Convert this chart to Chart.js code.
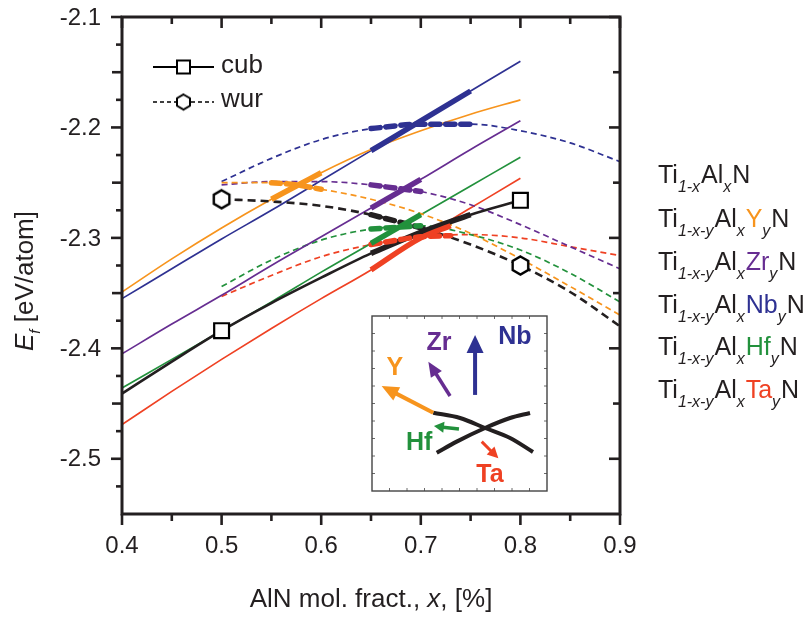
<!DOCTYPE html>
<html>
<head>
<meta charset="utf-8">
<script src="https://cdn.jsdelivr.net/npm/chart.js@4.4.1/dist/chart.umd.min.js"></script>
<style>
  body { margin: 0; background: #fff; }
  #wrap { position: relative; width: 807px; height: 617px; }
  #main { position: absolute; left: 0; top: 0; }
  #inset { position: absolute; left: 371px; top: 315px; }
</style>
</head>
<body>
<div id="wrap">
  <canvas id="main" width="807" height="617"></canvas>
  <canvas id="inset" width="178" height="178"></canvas>
</div>
<script>
// fonts + colours
const FONT = "'Liberation Sans', Arial, sans-serif";
const INK = "#231f20";
const COL = { TiAlN: INK, Y: "#f7941d", Zr: "#662d91", Nb: "#2e3192", Hf: "#22913c", Ta: "#ef4123" };

// x grids for the two phases
const xCub = [0.4, 0.45, 0.5, 0.55, 0.6, 0.65, 0.7, 0.75, 0.8];
const xWur = [0.5, 0.55, 0.6, 0.65, 0.7, 0.75, 0.8, 0.85, 0.9];

// cubic (solid) formation energies
const cubTiAlN = [-2.441, -2.412, -2.384, -2.359, -2.336, -2.314, -2.295, -2.279, -2.266];
const cubY  = [-2.349, -2.319, -2.291, -2.265, -2.241, -2.220, -2.203, -2.188, -2.175];
const cubZr = [-2.405, -2.378, -2.352, -2.325, -2.299, -2.273, -2.247, -2.220, -2.194];
const cubNb = [-2.355, -2.328, -2.301, -2.275, -2.248, -2.221, -2.194, -2.167, -2.140];
const cubHf = [-2.436, -2.410, -2.384, -2.358, -2.331, -2.305, -2.279, -2.253, -2.227];
const cubTa = [-2.469, -2.439, -2.410, -2.382, -2.355, -2.329, -2.300, -2.273, -2.246];

// wurtzite (dashed) formation energies
const wurTiAlN = [-2.265, -2.267, -2.271, -2.279, -2.291, -2.306, -2.325, -2.349, -2.380];
const wurY  = [-2.250, -2.250, -2.256, -2.265, -2.278, -2.296, -2.319, -2.344, -2.370];
const wurZr = [-2.252, -2.249, -2.249, -2.252, -2.258, -2.270, -2.288, -2.308, -2.328];
const wurNb = [-2.249, -2.228, -2.211, -2.201, -2.197, -2.197, -2.203, -2.214, -2.231];
const wurHf = [-2.344, -2.320, -2.302, -2.292, -2.289, -2.297, -2.311, -2.332, -2.358];
const wurTa = [-2.353, -2.334, -2.317, -2.306, -2.299, -2.297, -2.300, -2.308, -2.316];

// highlighted (bold) stretches
const boldYX = [0.55, 0.575, 0.6];   const boldYCub = [-2.265, -2.253, -2.241]; const boldYWur = [-2.250, -2.252, -2.256];
const boldZrX = [0.65, 0.7];         const boldZrCub = [-2.273, -2.247];        const boldZrWur = [-2.252, -2.258];
const boldNbX = [0.65, 0.7, 0.75];   const boldNbCub = [-2.221, -2.194, -2.167]; const boldNbWur = [-2.201, -2.197, -2.197];
const boldHfX = [0.65, 0.7];         const boldHfCub = [-2.305, -2.279];        const boldHfWur = [-2.292, -2.289];
const boldTaX = [0.65, 0.7, 0.73];   const boldTaCub = [-2.329, -2.300, -2.289]; const boldTaWur = [-2.306, -2.299, -2.298];
const boldTiCubX = [0.65, 0.7, 0.75]; const boldTiCub = [-2.314, -2.295, -2.279];
const boldTiWurX = [0.65, 0.7, 0.72]; const boldTiWur = [-2.279, -2.291, -2.297];

// symbols on the TiAlN curves
const markX = [0.5, 0.8];
const markCub = [-2.384, -2.266];
const markWur = [-2.265, -2.325];

// axis ticks
const xTickVals = [0.4, 0.5, 0.6, 0.7, 0.8, 0.9];
const xTickLabels = ["0.4", "0.5", "0.6", "0.7", "0.8", "0.9"];
const xMinorVals = [0.45, 0.55, 0.65, 0.75, 0.85];
const yTickVals = [-2.1, -2.2, -2.3, -2.4, -2.5];
const yTickLabels = ["-2.1", "-2.2", "-2.3", "-2.4", "-2.5"];
const yMidVals = [-2.15, -2.25, -2.35, -2.45];
const yMinorVals = [-2.125, -2.175, -2.225, -2.275, -2.325, -2.375, -2.425, -2.475, -2.525];

// formula list on the right
const elements = ["Y", "Zr", "Nb", "Hf", "Ta"];

// inset sketch (its own 0..10 frame)
const insetFallX = [3.5, 5.03, 6.46, 7.89, 9.2];
const insetFallY = [4.47, 4.17, 3.6, 3.03, 2.23];
const insetRiseX = [3.7, 4.84, 6.46, 7.89, 9.03];
const insetRiseY = [2.19, 2.82, 3.6, 4.17, 4.46];
const arrowFromX = [3.5, 4.46, 5.89, 4.97, 6.27];
const arrowFromY = [4.47, 5.43, 5.49, 3.54, 2.82];
const arrowToX = [0.55, 3.22, 5.89, 3.54, 7.22];
const arrowToY = [6.0, 7.39, 8.91, 3.71, 1.87];
const labelX = [1.31, 3.83, 8.17, 2.7, 6.74];
const labelY = [7.01, 8.44, 8.82, 2.72, 0.91];

function pts(xs, ys) { return xs.map((x, i) => ({ x, y: ys[i] })); }

function hexImage(r, lw) {
  const c = document.createElement("canvas");
  const s = Math.ceil(2 * r + lw + 2);
  c.width = s; c.height = s;
  const g = c.getContext("2d");
  g.beginPath();
  for (let k = 0; k < 6; k++) {
    const a = -Math.PI / 2 + k * Math.PI / 3;
    const px = s / 2 + r * Math.cos(a), py = s / 2 + r * Math.sin(a);
    if (k) g.lineTo(px, py); else g.moveTo(px, py);
  }
  g.closePath();
  g.fillStyle = "#fff"; g.fill();
  g.lineWidth = lw; g.strokeStyle = "#000"; g.stroke();
  return c;
}

function curve(xs, ys, color, dashed, width, order) {
  return {
    data: pts(xs, ys),
    borderColor: color,
    borderWidth: width,
    borderDash: dashed ? (width > 3 ? [9, 6] : [6, 4]) : [],
    borderCapStyle: width > 3 && dashed ? "round" : "butt",
    pointRadius: 0,
    cubicInterpolationMode: "monotone",
    fill: false,
    order: order
  };
}

const datasets = [
  // symbols on top
  { data: pts(markX, markCub), showLine: false, pointStyle: "rect", pointRadius: 10.5,
    pointBackgroundColor: "#fff", pointBorderColor: "#000", pointBorderWidth: 2.2, order: 0 },
  { data: pts(markX, markWur), showLine: false, pointStyle: hexImage(9, 2.4), order: 0 },

  // bold stretches
  curve(boldYX, boldYCub, COL.Y, false, 5.5, 1), curve(boldYX, boldYWur, COL.Y, true, 5.5, 1),
  curve(boldZrX, boldZrCub, COL.Zr, false, 5.5, 1), curve(boldZrX, boldZrWur, COL.Zr, true, 5.5, 1),
  curve(boldNbX, boldNbCub, COL.Nb, false, 5.5, 1), curve(boldNbX, boldNbWur, COL.Nb, true, 5.5, 1),
  curve(boldHfX, boldHfCub, COL.Hf, false, 5.5, 1), curve(boldHfX, boldHfWur, COL.Hf, true, 5.5, 1),
  curve(boldTaX, boldTaCub, COL.Ta, false, 5.5, 1), curve(boldTaX, boldTaWur, COL.Ta, true, 5.5, 1),
  curve(boldTiCubX, boldTiCub, INK, false, 5.5, 1), curve(boldTiWurX, boldTiWur, INK, true, 5.5, 1),

  // full curves
  curve(xCub, cubTiAlN, INK, false, 2.6, 2), curve(xWur, wurTiAlN, INK, true, 2.6, 2),
  curve(xCub, cubY, COL.Y, false, 1.7, 3), curve(xWur, wurY, COL.Y, true, 1.7, 3),
  curve(xCub, cubZr, COL.Zr, false, 1.7, 3), curve(xWur, wurZr, COL.Zr, true, 1.7, 3),
  curve(xCub, cubNb, COL.Nb, false, 1.7, 3), curve(xWur, wurNb, COL.Nb, true, 1.7, 3),
  curve(xCub, cubHf, COL.Hf, false, 1.7, 3), curve(xWur, wurHf, COL.Hf, true, 1.7, 3),
  curve(xCub, cubTa, COL.Ta, false, 1.7, 3), curve(xWur, wurTa, COL.Ta, true, 1.7, 3)
];
// black dashed a bit longer dashes
datasets[datasets.length - 11].borderDash = [8, 5];

function drawFormula(ctx, x, yBase, parts) {
  parts.forEach(p => {
    ctx.font = p.sub ? `italic 16px ${FONT}` : `25px ${FONT}`;
    ctx.fillStyle = p.color || INK;
    ctx.fillText(p.t, x, yBase + (p.sub ? 9 : 0));
    x += ctx.measureText(p.t).width + (p.sub ? 1 : 0);
  });
}

// frame, ticks, labels, titles, legend, formula list
const framePlugin = {
  id: "frame",
  afterDraw(chart) {
    const { ctx, chartArea: a, scales: { x, y } } = chart;
    ctx.save();
    ctx.strokeStyle = INK;
    ctx.lineWidth = 3;
    ctx.lineCap = "butt";
    ctx.strokeRect(a.left, a.top, a.right - a.left, a.bottom - a.top);

    const tick = (x1, y1, x2, y2) => { ctx.beginPath(); ctx.moveTo(x1, y1); ctx.lineTo(x2, y2); ctx.stroke(); };
    ctx.lineWidth = 2.6;
    xTickVals.forEach(v => { const px = x.getPixelForValue(v); tick(px, a.bottom, px, a.bottom + 11); tick(px, a.top, px, a.top + 11); });
    xMinorVals.forEach(v => { const px = x.getPixelForValue(v); tick(px, a.bottom, px, a.bottom + 7); tick(px, a.top, px, a.top + 7); });
    yTickVals.forEach(v => { const py = y.getPixelForValue(v); tick(a.left, py, a.left - 11, py); tick(a.right, py, a.right - 11, py); });
    yMidVals.forEach(v => { const py = y.getPixelForValue(v); tick(a.left, py, a.left - 10, py); tick(a.right, py, a.right - 7, py); });
    yMinorVals.forEach(v => { const py = y.getPixelForValue(v); tick(a.left, py, a.left - 6, py); });

    ctx.fillStyle = INK;
    ctx.font = `24px ${FONT}`;
    ctx.textBaseline = "middle";
    ctx.textAlign = "center";
    xTickVals.forEach((v, i) => ctx.fillText(xTickLabels[i], x.getPixelForValue(v), a.bottom + 32));
    ctx.textAlign = "right";
    yTickVals.forEach((v, i) => ctx.fillText(yTickLabels[i], a.left - 21, y.getPixelForValue(v) + 1));

    // x title
    ctx.textBaseline = "alphabetic";
    ctx.textAlign = "left";
    const xt = [["AlN mol. fract., ", ""], ["x", "italic "], [", [%]", ""]];
    let w = 0;
    xt.forEach(p => { ctx.font = `${p[1]}26px ${FONT}`; w += ctx.measureText(p[0]).width; });
    let cx = (a.left + a.right) / 2 - w / 2;
    xt.forEach(p => { ctx.font = `${p[1]}26px ${FONT}`; ctx.fillText(p[0], cx, 607); cx += ctx.measureText(p[0]).width; });

    // y title
    ctx.save();
    ctx.translate(33, 281);
    ctx.rotate(-Math.PI / 2);
    const yt = [["E", "italic 26px", 0], ["f", "italic 15px", 7], [" [eV/atom]", "26px", 0]];
    w = 0;
    yt.forEach(p => { ctx.font = `${p[1]} ${FONT}`; w += ctx.measureText(p[0]).width; });
    cx = -w / 2;
    yt.forEach(p => { ctx.font = `${p[1]} ${FONT}`; ctx.fillText(p[0], cx, p[2]); cx += ctx.measureText(p[0]).width; });
    ctx.restore();

    // legend
    ctx.strokeStyle = "#000";
    ctx.lineWidth = 2;
    ctx.setLineDash([]);
    tick(153, 67, 177, 67); tick(190, 67, 214, 67);
    ctx.fillStyle = "#fff";
    ctx.fillRect(177, 60.5, 13, 13);
    ctx.strokeRect(177, 60.5, 13, 13);
    ctx.lineWidth = 1.6;
    ctx.setLineDash([4, 3]);
    tick(153, 102, 176, 102); tick(191, 102, 214, 102);
    ctx.setLineDash([]);
    const hx = hexImage(7.5, 2);
    ctx.drawImage(hx, 183.5 - hx.width / 2, 102 - hx.height / 2);
    ctx.fillStyle = INK;
    ctx.font = `26px ${FONT}`;
    ctx.textBaseline = "middle";
    ctx.fillText("cub", 221, 66);
    ctx.fillText("wur", 221, 100);

    // formula list
    ctx.textBaseline = "alphabetic";
    drawFormula(ctx, 658, 183, [{ t: "Ti" }, { t: "1-x", sub: 1 }, { t: "Al" }, { t: "x", sub: 1 }, { t: "N" }]);
    elements.forEach((el, i) => {
      drawFormula(ctx, 658, 227 + i * 42.8, [{ t: "Ti" }, { t: "1-x-y", sub: 1 }, { t: "Al" }, { t: "x", sub: 1 },
        { t: el, color: COL[el] }, { t: "y", sub: 1 }, { t: "N" }]);
    });
    ctx.restore();
  }
};

new Chart(document.getElementById("main"), {
  type: "line",
  data: { datasets },
  options: {
    responsive: false,
    animation: false,
    layout: { padding: { left: 122, right: 187, top: 17, bottom: 103 } },
    scales: {
      x: { type: "linear", min: 0.4, max: 0.9, display: false },
      y: { type: "linear", min: -2.55, max: -2.1, display: false }
    },
    plugins: { legend: { display: false }, tooltip: { enabled: false } }
  },
  plugins: [framePlugin]
});

// inset
function arrow(ctx, x1, y1, x2, y2, color, lw, hl, hw) {
  const ang = Math.atan2(y2 - y1, x2 - x1);
  const bx = x2 - hl * Math.cos(ang), by = y2 - hl * Math.sin(ang);
  ctx.strokeStyle = color; ctx.lineWidth = lw; ctx.lineCap = "butt";
  ctx.beginPath(); ctx.moveTo(x1, y1); ctx.lineTo(bx + Math.cos(ang), by + Math.sin(ang)); ctx.stroke();
  ctx.fillStyle = color;
  ctx.beginPath();
  ctx.moveTo(x2, y2);
  ctx.lineTo(bx + hw / 2 * Math.sin(ang), by - hw / 2 * Math.cos(ang));
  ctx.lineTo(bx - hw / 2 * Math.sin(ang), by + hw / 2 * Math.cos(ang));
  ctx.closePath(); ctx.fill();
}

const arrowStyle = { Y: [4, 17, 15], Zr: [3.5, 15, 13], Nb: [4, 18, 17], Hf: [3.5, 10, 11], Ta: [3, 11, 11] };

const insetPlugin = {
  id: "insetFrame",
  beforeDraw(chart) {
    const { ctx, chartArea: a } = chart;
    ctx.save(); ctx.fillStyle = "#fff"; ctx.fillRect(a.left, a.top, a.right - a.left, a.bottom - a.top); ctx.restore();
  },
  afterDraw(chart) {
    const { ctx, chartArea: a, scales: { x, y } } = chart;
    ctx.save();
    ctx.strokeStyle = "#444";
    ctx.lineWidth = 1.4;
    ctx.strokeRect(a.left, a.top, a.right - a.left, a.bottom - a.top);
    ctx.lineWidth = 0.8;
    for (let v = 1; v < 10; v++) {
      const px = x.getPixelForValue(v), py = y.getPixelForValue(v);
      ctx.beginPath();
      ctx.moveTo(px, a.top); ctx.lineTo(px, a.top + 3);
      ctx.moveTo(px, a.bottom); ctx.lineTo(px, a.bottom - 3);
      ctx.moveTo(a.left, py); ctx.lineTo(a.left + 3, py);
      ctx.moveTo(a.right, py); ctx.lineTo(a.right - 3, py);
      ctx.stroke();
    }
    elements.forEach((el, i) => {
      const s = arrowStyle[el];
      arrow(ctx, x.getPixelForValue(arrowFromX[i]), y.getPixelForValue(arrowFromY[i]),
        x.getPixelForValue(arrowToX[i]), y.getPixelForValue(arrowToY[i]), COL[el], s[0], s[1], s[2]);
      ctx.fillStyle = COL[el];
      ctx.font = `bold 25px ${FONT}`;
      ctx.textAlign = "center";
      ctx.textBaseline = "middle";
      ctx.fillText(el, x.getPixelForValue(labelX[i]), y.getPixelForValue(labelY[i]));
    });
    ctx.restore();
  }
};

new Chart(document.getElementById("inset"), {
  type: "line",
  data: {
    datasets: [
      { data: pts(insetFallX, insetFallY), borderColor: INK, borderWidth: 4, pointRadius: 0, cubicInterpolationMode: "monotone" },
      { data: pts(insetRiseX, insetRiseY), borderColor: INK, borderWidth: 4, pointRadius: 0, cubicInterpolationMode: "monotone" }
    ]
  },
  options: {
    responsive: false,
    animation: false,
    layout: { padding: { left: 1, right: 2, top: 1, bottom: 2 } },
    scales: {
      x: { type: "linear", min: 0, max: 10, display: false },
      y: { type: "linear", min: 0, max: 10, display: false }
    },
    plugins: { legend: { display: false }, tooltip: { enabled: false } }
  },
  plugins: [insetPlugin]
});
</script>
</body>
</html>
